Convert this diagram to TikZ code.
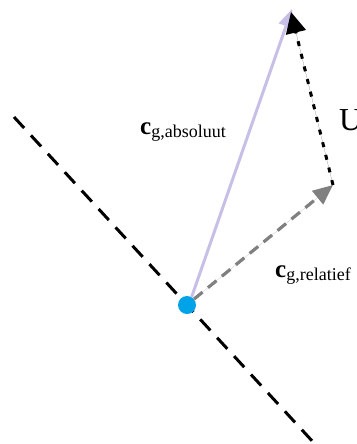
\documentclass[tikz,border=0pt]{standalone}
\usepackage{fontspec}
\setmainfont{Liberation Serif}
\usetikzlibrary{arrows.meta}
\definecolor{lav}{RGB}{200,191,231}
\definecolor{dotblue}{RGB}{0,162,232}
\definecolor{vgray}{RGB}{128,128,128}
\tikzset{
  x=1pt,y=-1pt,
  pt/.style={circle,fill=dotblue,inner sep=0pt,minimum size=18pt},
  absarrow/.style={draw=lav,line width=3pt,-{Triangle[length=18pt,width=15pt]},fill=lav},
  relarrow/.style={draw=vgray,line width=3.2pt,dash pattern=on 11pt off 7pt,-{Triangle[length=20pt,width=17pt]},fill=vgray},
  uarrow/.style={draw=black,line width=3pt,dash pattern=on 5pt off 8pt,-{Triangle[length=21pt,width=20pt]},fill=black},
  axisline/.style={draw=black,line width=3pt,dash pattern=on 15pt off 10pt},
  lbl/.style={anchor=base west,inner sep=0pt,text=black}
}
\newcommand{\cgl}[1]{{\fontsize{25}{25}\selectfont\bfseries c}\raisebox{-3pt}{\fontsize{18}{18}\selectfont #1}}
\begin{document}
\begin{tikzpicture}
\useasboundingbox (0,0) rectangle (356,444);
\coordinate (a1) at (14,117);
\coordinate (a2) at (314,443);
\draw[axisline] (a1) -- (a2);
\node[pt] (dot) at (187,305) {};
\coordinate (tabs) at (292,9);
\coordinate (trel) at (333,185);
\coordinate (tu) at (291,12);
\draw[absarrow] (dot.60) -- (tabs);
\draw[relarrow] (dot.40) -- (trel);
\draw[uarrow] (trel) -- (tu);
\node[lbl] (labs) at (140,134) {\cgl{g,absoluut}};
\node[lbl] (lrel) at (275,277) {\cgl{g,relatief}};
\node[lbl] (lu) at (339,130) {\fontsize{32}{32}\selectfont U};
\end{tikzpicture}
\end{document}
